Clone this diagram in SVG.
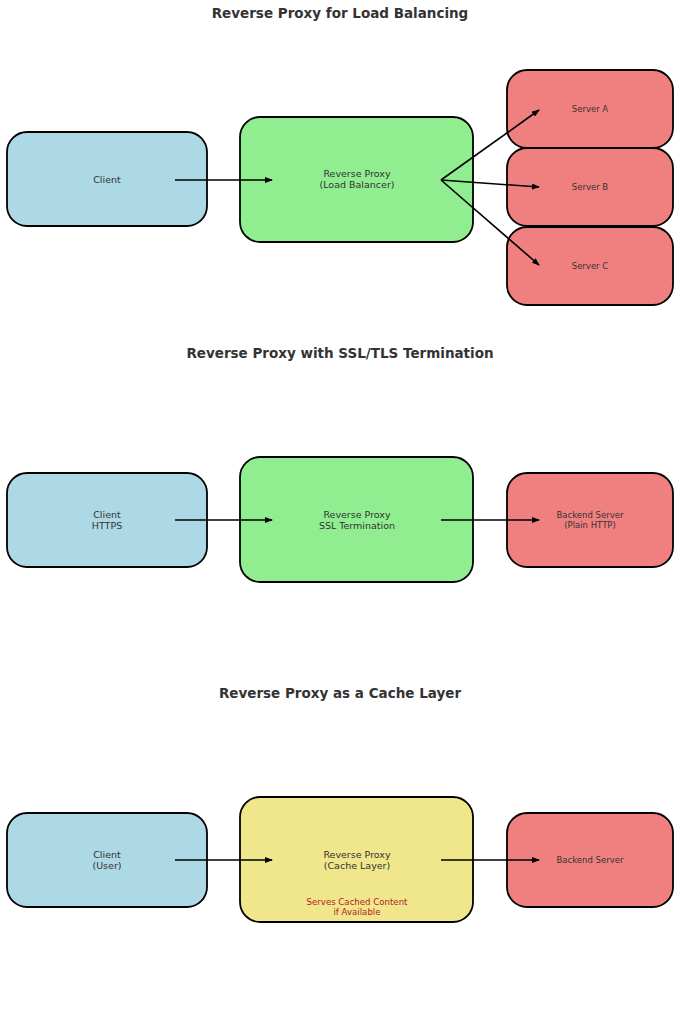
<svg xmlns="http://www.w3.org/2000/svg" width="680" height="1024" viewBox="0 0 680 1024">
<style>
.title{font-family:"DejaVu Sans",sans-serif;font-size:13.5px;font-weight:bold;fill:#333;text-anchor:middle}
.lbl{font-family:"DejaVu Sans",sans-serif;font-size:9.5px;fill:#333;text-anchor:middle}
.sm{font-family:"DejaVu Sans",sans-serif;font-size:8.5px;fill:#333;text-anchor:middle}
.note{font-family:"DejaVu Sans",sans-serif;font-size:8.6px;fill:#B22222;text-anchor:middle}
.box{stroke:#000;stroke-width:1.8}
.blue{fill:#ADD8E6}.green{fill:#90EE90}.red{fill:#F08080}.khaki{fill:#F0E68C}
.conn line{stroke:#000;stroke-width:1.6;marker-end:url(#ah)}
</style>
<defs>
<marker id="ah" markerWidth="8" markerHeight="6" refX="7" refY="3" orient="auto" markerUnits="userSpaceOnUse">
<path d="M0,0 L8,3 L0,6 Z" fill="#000"/>
</marker>
</defs>
<rect width="680" height="1024" fill="#fff"/>

<text class="title" x="340" y="18">Reverse Proxy for Load Balancing</text>
<text class="title" x="340" y="358">Reverse Proxy with SSL/TLS Termination</text>
<text class="title" x="340" y="698">Reverse Proxy as a Cache Layer</text>

<g id="client1"><rect class="box blue" x="7" y="132" width="200" height="94" rx="20"/><text class="lbl" x="107" y="183">Client</text></g>
<g id="proxy1"><rect class="box green" x="240" y="117" width="233" height="125" rx="20"/><text class="lbl" x="357" y="177">Reverse Proxy</text><text class="lbl" x="357" y="188">(Load Balancer)</text></g>
<g id="serverA"><rect class="box red" x="507" y="70" width="166" height="78" rx="20"/><text class="sm" x="590" y="112">Server A</text></g>
<g id="serverB"><rect class="box red" x="507" y="148" width="166" height="78" rx="20"/><text class="sm" x="590" y="190">Server B</text></g>
<g id="serverC"><rect class="box red" x="507" y="227" width="166" height="78" rx="20"/><text class="sm" x="590" y="269">Server C</text></g>

<g id="client2"><rect class="box blue" x="7" y="473" width="200" height="94" rx="20"/><text class="lbl" x="107" y="518">Client</text><text class="lbl" x="107" y="529">HTTPS</text></g>
<g id="proxy2"><rect class="box green" x="240" y="457" width="233" height="125" rx="20"/><text class="lbl" x="357" y="518">Reverse Proxy</text><text class="lbl" x="357" y="529">SSL Termination</text></g>
<g id="backend2"><rect class="box red" x="507" y="473" width="166" height="94" rx="20"/><text class="sm" x="590" y="518">Backend Server</text><text class="sm" x="590" y="528">(Plain HTTP)</text></g>

<g id="client3"><rect class="box blue" x="7" y="813" width="200" height="94" rx="20"/><text class="lbl" x="107" y="858">Client</text><text class="lbl" x="107" y="869">(User)</text></g>
<g id="proxy3"><rect class="box khaki" x="240" y="797" width="233" height="125" rx="20"/><text class="lbl" x="357" y="858">Reverse Proxy</text><text class="lbl" x="357" y="869">(Cache Layer)</text><text class="note" x="357" y="905">Serves Cached Content</text><text class="note" x="357" y="915">if Available</text></g>
<g id="backend3"><rect class="box red" x="507" y="813" width="166" height="94" rx="20"/><text class="sm" x="590" y="863">Backend Server</text></g>

<g id="connectors" class="conn">
<line x1="175" y1="180" x2="272" y2="180"/>
<line x1="441" y1="180" x2="539" y2="110"/>
<line x1="441" y1="180" x2="539" y2="187"/>
<line x1="441" y1="180" x2="539" y2="265"/>
<line x1="175" y1="520" x2="272" y2="520"/>
<line x1="441" y1="520" x2="539" y2="520"/>
<line x1="175" y1="860" x2="272" y2="860"/>
<line x1="441" y1="860" x2="539" y2="860"/>
</g>
</svg>
